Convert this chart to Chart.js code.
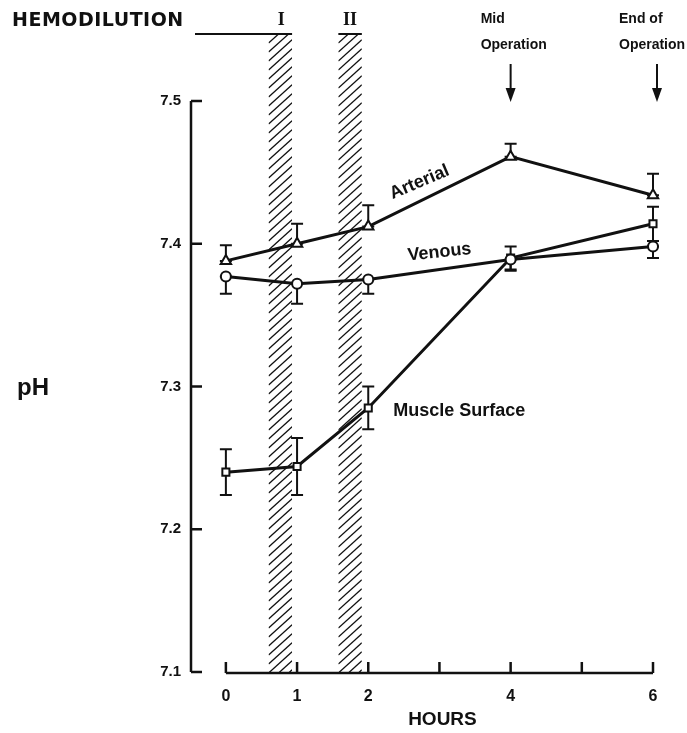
<!DOCTYPE html>
<html>
<head>
<meta charset="utf-8">
<script src="https://cdn.jsdelivr.net/npm/chart.js@4.4.0/dist/chart.umd.min.js"></script>
<style>
  body { margin: 0; background: #fff; }
  #wrap { width: 687px; height: 733px; position: relative; }
</style>
</head>
<body>
<div id="wrap"><canvas id="phChart"></canvas></div>
<script>
// data
const hours = [0, 1, 2, 4, 6];
const arterial = [7.388, 7.400, 7.412, 7.461, 7.434];
const arterialErrUp = [0.011, 0.014, 0.015, 0.009, 0.015];
const venous = [7.377, 7.372, 7.375, 7.389, 7.398];
const venousErrDown = [0.012, 0.014, 0.010, 0.008, 0.008];
const muscle = [7.240, 7.244, 7.285, 7.390, 7.414];
const muscleErr = [0.016, 0.020, 0.015, 0.008, 0.012];

const xTickValues = [0, 1, 2, 3, 4, 5, 6];
const xTickLabels = ['0', '1', '2', '', '4', '', '6'];
const yTickValues = [7.1, 7.2, 7.3, 7.4, 7.5];

const bandStart = [0.6, 1.58];
const bandEnd = [0.93, 1.91];
const bandLabels = ['I', 'II'];

const eventHours = [4, 6];
const eventLine1 = ['Mid', 'End of'];
const eventLine2 = ['Operation', 'Operation'];

const FONT = '"Liberation Sans", Arial, sans-serif';
const INK = '#111';

const decor = {
  id: 'decor',
  beforeDatasetsDraw(chart) {
    const ctx = chart.ctx;
    const xs = chart.scales.x, ys = chart.scales.y;
    const area = chart.chartArea;
    const bandTop = 35;
    ctx.save();

    // hatched hemodilution bands
    for (let i = 0; i < bandStart.length; i++) {
      const x1 = xs.getPixelForValue(bandStart[i]);
      const x2 = xs.getPixelForValue(bandEnd[i]);
      ctx.save();
      ctx.beginPath();
      ctx.rect(x1, bandTop, x2 - x1, area.bottom - bandTop);
      ctx.clip();
      ctx.strokeStyle = INK;
      ctx.lineWidth = 1.3;
      const rise = (x2 - x1) * 0.9;
      for (let y = bandTop - 10; y < area.bottom + rise + 10; y += 9) {
        ctx.beginPath();
        ctx.moveTo(x1, y);
        ctx.lineTo(x2, y - rise);
        ctx.stroke();
      }
      ctx.restore();
    }

    // top bars + HEMODILUTION rule
    ctx.strokeStyle = INK;
    ctx.lineWidth = 2;
    ctx.beginPath();
    ctx.moveTo(195, bandTop - 1);
    ctx.lineTo(xs.getPixelForValue(bandEnd[0]), bandTop - 1);
    ctx.moveTo(xs.getPixelForValue(bandStart[1]), bandTop - 1);
    ctx.lineTo(xs.getPixelForValue(bandEnd[1]), bandTop - 1);
    ctx.stroke();

    // y axis with inward ticks
    ctx.lineWidth = 2.5;
    ctx.beginPath();
    ctx.moveTo(area.left, ys.getPixelForValue(7.5));
    ctx.lineTo(area.left, ys.getPixelForValue(7.1));
    yTickValues.forEach(v => {
      const py = ys.getPixelForValue(v);
      ctx.moveTo(area.left, py);
      ctx.lineTo(area.left + 11, py);
    });
    ctx.stroke();

    // x axis with upward ticks
    const by = area.bottom + 1;
    ctx.beginPath();
    ctx.moveTo(xs.getPixelForValue(0), by);
    ctx.lineTo(xs.getPixelForValue(6), by);
    xTickValues.forEach(v => {
      const px = xs.getPixelForValue(v);
      ctx.moveTo(px, by);
      ctx.lineTo(px, by - 11);
    });
    ctx.stroke();

    // error bars
    ctx.lineWidth = 2;
    const bar = (h, lo, hi) => {
      const px = xs.getPixelForValue(h);
      const p1 = ys.getPixelForValue(lo), p2 = ys.getPixelForValue(hi);
      ctx.beginPath();
      ctx.moveTo(px, p1); ctx.lineTo(px, p2);
      ctx.moveTo(px - 6, p2); ctx.lineTo(px + 6, p2);
      if (lo !== hi) { ctx.moveTo(px - 6, p1); ctx.lineTo(px + 6, p1); }
      ctx.stroke();
    };
    hours.forEach((h, i) => {
      bar(h, arterial[i], arterial[i] + arterialErrUp[i]);
      bar(h, venous[i], venous[i] - venousErrDown[i]);
      bar(h, muscle[i] - muscleErr[i], muscle[i] + muscleErr[i]);
    });
    ctx.restore();
  },
  afterDraw(chart) {
    const ctx = chart.ctx;
    const xs = chart.scales.x, ys = chart.scales.y;
    ctx.save();
    ctx.fillStyle = INK;
    ctx.strokeStyle = INK;

    // HEMODILUTION header
    ctx.font = 'bold 19px "DejaVu Sans", sans-serif';
    ctx.letterSpacing = '0.5px';
    ctx.textBaseline = 'middle';
    ctx.textAlign = 'left';
    ctx.fillText('HEMODILUTION', 12, 21);
    ctx.letterSpacing = '0px';

    // band numerals
    ctx.font = 'bold 18px "Liberation Serif", serif';
    ctx.textAlign = 'center';
    for (let i = 0; i < bandLabels.length; i++) {
      const cx = (xs.getPixelForValue(bandStart[i]) + xs.getPixelForValue(bandEnd[i])) / 2;
      ctx.fillText(bandLabels[i], cx + (i === 0 ? 1 : 0), 20);
    }

    // operation markers with arrows
    ctx.font = 'bold 14px ' + FONT;
    ctx.textAlign = 'left';
    for (let i = 0; i < eventHours.length; i++) {
      const px = xs.getPixelForValue(eventHours[i]) + (i === 1 ? 4 : 0);
      const tx = px - (i === 1 ? 38 : 30);
      ctx.fillText(eventLine1[i], tx, 19);
      ctx.fillText(eventLine2[i], tx, 45);
      ctx.lineWidth = 2;
      ctx.beginPath();
      ctx.moveTo(px, 64);
      ctx.lineTo(px, 92);
      ctx.stroke();
      ctx.beginPath();
      ctx.moveTo(px - 5, 88);
      ctx.lineTo(px + 5, 88);
      ctx.lineTo(px, 102);
      ctx.closePath();
      ctx.fill();
    }

    // series labels
    const label = (text, h, v, angle, align) => {
      ctx.save();
      ctx.translate(xs.getPixelForValue(h), ys.getPixelForValue(v));
      ctx.rotate(angle * Math.PI / 180);
      ctx.textAlign = align;
      ctx.fillText(text, 0, 0);
      ctx.restore();
    };
    ctx.font = 'bold 18px ' + FONT;
    label('Arterial', 2.72, 7.443, -23, 'center');
    label('Venous', 3.0, 7.394, -6, 'center');
    label('Muscle Surface', 2.35, 7.283, 0, 'left');

    // axis titles
    ctx.font = 'bold 19px ' + FONT;
    ctx.textAlign = 'center';
    ctx.fillText('HOURS', (xs.getPixelForValue(0) + xs.getPixelForValue(6)) / 2 + 3, 720);
    ctx.font = 'bold 24px ' + FONT;
    ctx.fillText('pH', 33, 388);
    ctx.restore();
  }
};

const pointCommon = {
  borderColor: INK,
  backgroundColor: INK,
  pointBackgroundColor: '#fff',
  pointBorderColor: INK,
  pointBorderWidth: 2,
  borderWidth: 3,
  pointRadius: 5,
  tension: 0,
  clip: false
};

new Chart(document.getElementById('phChart'), {
  type: 'line',
  data: {
    datasets: [
      Object.assign({ label: 'Arterial', pointStyle: 'triangle',
        data: hours.map((h, i) => ({ x: h, y: arterial[i] })) }, pointCommon, { pointRadius: 6 }),
      Object.assign({ label: 'Venous', pointStyle: 'circle',
        data: hours.map((h, i) => ({ x: h, y: venous[i] })) }, pointCommon),
      Object.assign({ label: 'Muscle Surface', pointStyle: 'rect',
        data: hours.map((h, i) => ({ x: h, y: muscle[i] })) }, pointCommon)
    ]
  },
  options: {
    responsive: true,
    maintainAspectRatio: false,
    animation: false,
    layout: { padding: { top: 101, right: 34, left: 0, bottom: 0 } },
    plugins: { legend: { display: false }, tooltip: { enabled: false } },
    scales: {
      x: {
        type: 'linear',
        min: -0.49,
        max: 6,
        grid: { display: false, drawTicks: false },
        border: { display: false },
        afterBuildTicks: s => { s.ticks = xTickValues.map(v => ({ value: v })); },
        afterFit: s => { s.height = 61; },
        ticks: {
          color: INK,
          padding: 15,
          maxRotation: 0,
          autoSkip: false,
          font: { family: FONT, size: 16, weight: 'bold' },
          callback: v => xTickLabels[xTickValues.indexOf(v)]
        }
      },
      y: {
        min: 7.1,
        max: 7.5,
        grid: { display: false, drawTicks: false },
        border: { display: false },
        afterBuildTicks: s => { s.ticks = yTickValues.map(v => ({ value: v })); },
        afterFit: s => { s.width = 191; },
        ticks: {
          color: INK,
          padding: 10,
          font: { family: FONT, size: 15, weight: 'bold' },
          callback: v => v.toFixed(1)
        }
      }
    }
  },
  plugins: [decor]
});
</script>
</body>
</html>
